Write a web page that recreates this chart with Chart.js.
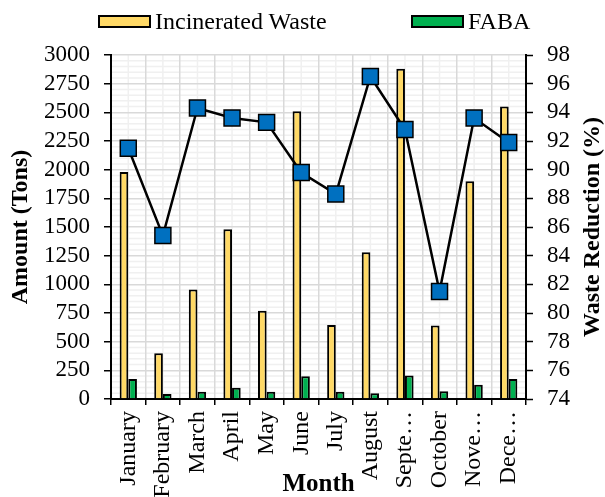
<!DOCTYPE html>
<html>
<head>
<meta charset="utf-8">
<script src="https://cdn.jsdelivr.net/npm/chart.js@4"></script>
<style>
    body { margin: 0; background: #fff; }
    #wrap { position: relative; width: 605px; height: 497px; }
    .legend-item { position: absolute; top: 8px; display: flex; align-items: center; font-family: "Liberation Serif", serif; font-size: 24px; color: #000; }
    .legend-box { width: 49px; height: 9px; border: 2px solid #000; margin-right: 4px; }
</style>
</head>
<body>
<div id="wrap">
    <canvas id="wasteChart" width="605" height="497"></canvas>
    <div class="legend-item" style="left: 98px;"><span class="legend-box" style="background:#FFD966"></span>Incinerated Waste</div>
    <div class="legend-item" style="left: 411px;"><span class="legend-box" style="background:#00B050"></span>FABA</div>
</div>
<script>
const months = ["January", "February", "March", "April", "May", "June", "July", "August", "Septe…", "October", "Nove…", "Dece…"];
const incinerated = [1980, 400, 955, 1480, 770, 2510, 645, 1280, 2880, 640, 1900, 2550];
const faba = [174, 44, 64, 99, 64, 198, 64, 50, 205, 67, 124, 174];
const reduction = [91.5, 85.4, 94.3, 93.6, 93.3, 89.8, 88.3, 96.5, 92.8, 81.5, 93.6, 91.9];

const serif = "'Liberation Serif', 'Times New Roman', serif";

// light minor gridlines behind everything
const minorGrid = {
    id: "minorGrid",
    beforeDraw(chart) {
        const { ctx, chartArea: a, scales } = chart;
        ctx.save();
        ctx.strokeStyle = "#f0f0f0";
        ctx.lineWidth = 1.5;
        ctx.beginPath();
        for (let v = 0; v <= 3000; v += 50) {
            if (v % 250 === 0) continue;
            const py = scales.y.getPixelForValue(v);
            ctx.moveTo(a.left, py);
            ctx.lineTo(a.right, py);
        }
        months.forEach((m, i) => {
            const px = scales.x.getPixelForValue(i);
            ctx.moveTo(px, a.top);
            ctx.lineTo(px, a.bottom);
        });
        ctx.stroke();
        ctx.restore();
    }
};

// right axis title reads bottom-to-top like the left one
const rightTitle = {
    id: "rightTitle",
    afterDraw(chart) {
        const { ctx, chartArea: a } = chart;
        ctx.save();
        ctx.translate(593, (a.top + a.bottom) / 2);
        ctx.rotate(-Math.PI / 2);
        ctx.font = "bold 24px " + serif;
        ctx.fillStyle = "#000";
        ctx.textAlign = "center";
        ctx.textBaseline = "middle";
        ctx.fillText("Waste Reduction (%)", 0, 0);
        ctx.restore();
    }
};

new Chart(document.getElementById("wasteChart"), {
    type: "bar",
    data: {
        labels: months,
        datasets: [
            {
                type: "line",
                label: "Waste Reduction",
                data: reduction,
                yAxisID: "y1",
                borderColor: "#000",
                borderWidth: 2.5,
                pointStyle: "rect",
                pointRadius: 11.3,
                pointBackgroundColor: "#0070C0",
                pointBorderColor: "#000",
                pointBorderWidth: 1.5,
                tension: 0,
                order: 0
            },
            {
                label: "Incinerated Waste",
                data: incinerated,
                backgroundColor: "#FFD966",
                borderColor: "#000",
                borderWidth: 2,
                yAxisID: "y",
                order: 1
            },
            {
                label: "FABA",
                data: faba,
                backgroundColor: "#00B050",
                borderColor: "#000",
                borderWidth: 2,
                yAxisID: "y",
                order: 2
            }
        ]
    },
    options: {
        responsive: false,
        animation: false,
        categoryPercentage: 0.5,
        barPercentage: 1.0,
        layout: { padding: { top: 55, left: 0, right: 0, bottom: 0 } },
        plugins: {
            legend: { display: false },
            tooltip: { enabled: false }
        },
        scales: {
            x: {
                offset: true,
                grid: { offset: true, color: "#d9d9d9", lineWidth: 1.5, tickColor: "#000", tickLength: 6, tickWidth: 1.5 },
                border: { color: "#000", width: 2 },
                ticks: {
                    autoSkip: false, maxRotation: 90, minRotation: 90, padding: 6,
                    color: "#000", font: { family: serif, size: 24 }
                },
                title: {
                    display: true, text: "Month", color: "#000",
                    font: { family: serif, size: 25, weight: "bold", lineHeight: 1 },
                    padding: { top: 0, bottom: 0 }
                },
                afterFit(scale) { scale.height = 98; }
            },
            y: {
                position: "left",
                min: 0,
                max: 3000,
                grid: { color: "#d9d9d9", lineWidth: 1.5, tickColor: "#000", tickLength: 7, tickWidth: 1.5 },
                border: { color: "#000", width: 2 },
                ticks: {
                    stepSize: 250, autoSkip: false, padding: 14, color: "#000",
                    font: { family: serif, size: 23 },
                    callback: v => String(v)
                },
                title: {
                    display: true, text: "Amount (Tons)", color: "#000",
                    font: { family: serif, size: 24, weight: "bold", lineHeight: 1 },
                    padding: { top: 9, bottom: 0 }
                },
                afterFit(scale) { scale.width = 111; }
            },
            y1: {
                position: "right",
                min: 74,
                max: 98,
                grid: { drawOnChartArea: false, tickColor: "#000", tickLength: 7, tickWidth: 1.5 },
                border: { color: "#000", width: 2 },
                ticks: {
                    stepSize: 2, autoSkip: false, padding: 14, color: "#000",
                    font: { family: serif, size: 23 },
                    callback: v => String(v)
                },
                afterFit(scale) { scale.width = 79; }
            }
        }
    },
    plugins: [minorGrid, rightTitle]
});
</script>
</body>
</html>
